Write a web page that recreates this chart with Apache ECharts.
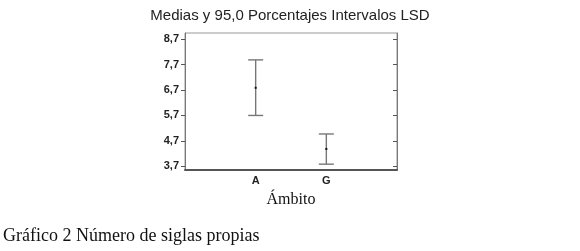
<!DOCTYPE html>
<html><head><meta charset="utf-8">
<script src="https://cdn.jsdelivr.net/npm/echarts@6/dist/echarts.min.js"></script>
<style>html,body{margin:0;padding:0;background:#fff}#c{width:580px;height:251px}</style>
</head><body><div id="c"></div>
<script>
var categories = ['A', 'G'];
var means = [6.79, 4.38];
var lowers = [5.70, 3.78];
var uppers = [7.89, 4.97];
var yTicks = [3.7, 4.7, 5.7, 6.7, 7.7, 8.7];
var xPositions = [1, 2];

var data = categories.map(function (c, i) { return [xPositions[i], means[i], lowers[i], uppers[i]]; });
var fmt = function (v) { return v.toFixed(1).replace('.', ','); };
var chart = echarts.init(document.getElementById('c'));
chart.setOption({
  animation: false,
  title: [
    { text: 'Medias y 95,0 Porcentajes Intervalos LSD', left: 290, top: 8, textAlign: 'center', padding: 0,
      textStyle: { fontFamily: 'Liberation Sans', fontSize: 15, fontWeight: 'normal', color: '#222' } },
    { text: 'Ámbito', left: 291, top: 192, textAlign: 'center', padding: 0,
      textStyle: { fontFamily: 'Liberation Serif', fontSize: 16, fontWeight: 'normal', color: '#111' } },
    { text: 'Gráfico 2 Número de siglas propias', left: 3, top: 227, padding: 0,
      textStyle: { fontFamily: 'Liberation Serif', fontSize: 18, fontWeight: 'normal', color: '#111' } }
  ],
  grid: { left: 185, right: 183, top: 33, bottom: 81, show: true, borderColor: '#999', borderWidth: 1 },
  xAxis: {
    type: 'value', min: 0, max: 3,
    splitLine: { show: false },
    axisLine: { show: true, lineStyle: { color: '#555', width: 2 } },
    axisTick: { show: false },
    axisLabel: { customValues: xPositions, formatter: function (v) { return categories[v - 1]; },
      fontFamily: 'Liberation Sans', fontSize: 11, fontWeight: 'bold', color: '#222', margin: 5 }
  },
  yAxis: [{
    type: 'value', min: 3.55, max: 8.95, position: 'left',
    splitLine: { show: false },
    axisLine: { show: true, lineStyle: { color: '#777', width: 1 } },
    axisTick: { show: true, customValues: yTicks, length: 4, lineStyle: { color: '#555' } },
    axisLabel: { customValues: yTicks, formatter: fmt, fontFamily: 'Liberation Sans', fontSize: 11, fontWeight: 'bold', color: '#222', margin: 6 }
  }, {
    type: 'value', min: 3.55, max: 8.95, position: 'right',
    splitLine: { show: false },
    axisLine: { show: true, lineStyle: { color: '#777', width: 1 } },
    axisTick: { show: true, inside: true, customValues: yTicks, length: 4, lineStyle: { color: '#555' } },
    axisLabel: { show: false }
  }],
  series: [{
    type: 'custom',
    data: data,
    renderItem: function (params, api) {
      var x = api.value(0);
      var pm = api.coord([x, api.value(1)]);
      var pl = api.coord([x, api.value(2)]);
      var pu = api.coord([x, api.value(3)]);
      var hw = 7.5;
      var st = { stroke: '#777', lineWidth: 1.4 };
      return {
        type: 'group',
        children: [
          { type: 'line', shape: { x1: pl[0], y1: pl[1], x2: pu[0], y2: pu[1] }, style: st },
          { type: 'line', shape: { x1: pu[0] - hw, y1: pu[1], x2: pu[0] + hw, y2: pu[1] }, style: st },
          { type: 'line', shape: { x1: pl[0] - hw, y1: pl[1], x2: pl[0] + hw, y2: pl[1] }, style: st },
          { type: 'rect', shape: { x: pm[0] - 1, y: pm[1] - 1, width: 2, height: 2 }, style: { fill: '#111' } }
        ]
      };
    }
  }]
});
</script></body></html>
